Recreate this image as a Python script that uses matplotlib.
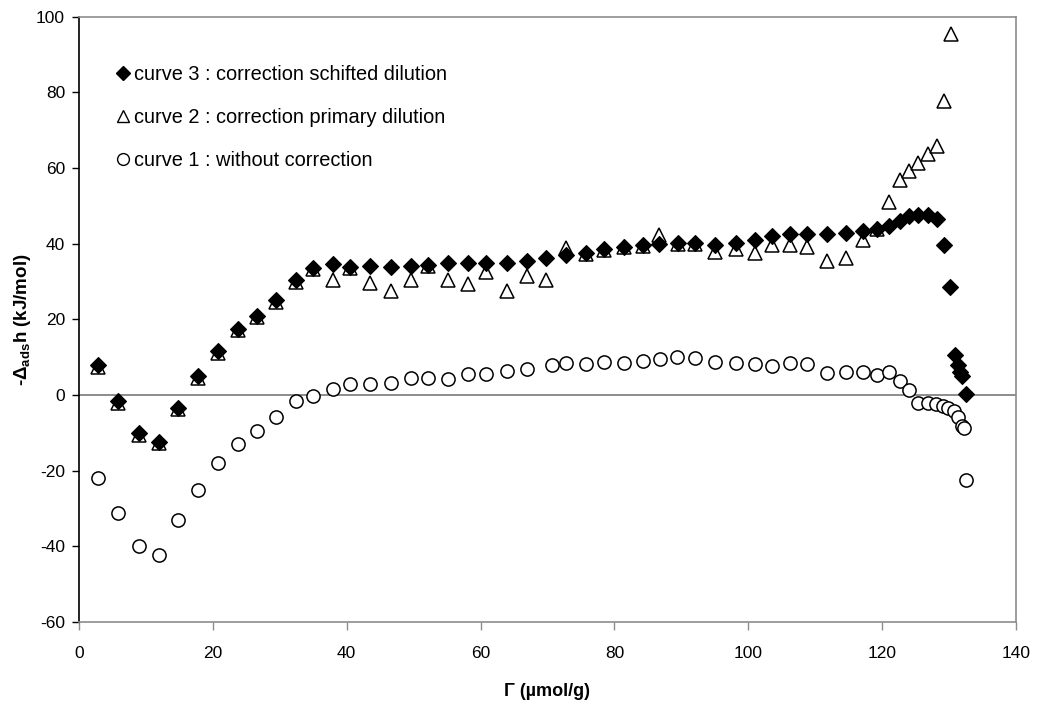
import matplotlib
matplotlib.use('Agg')
import matplotlib.pyplot as plt
from matplotlib.lines import Line2D

plt.rcParams['font.family'] = ['Liberation Sans', 'DejaVu Sans']
plt.rcParams['axes.unicode_minus'] = False
plt.rcParams['mathtext.fontset'] = 'custom'
plt.rcParams['mathtext.rm'] = 'Liberation Sans:bold'
plt.rcParams['mathtext.bf'] = 'Liberation Sans:bold'
plt.rcParams['mathtext.default'] = 'rm'

# ---------------- data ----------------
# curve 3 : correction schifted dilution (filled diamonds)
x3 = [2.9, 5.9, 8.9, 11.9, 14.8, 17.8, 20.8, 23.7, 26.6, 29.5, 32.4, 35.0, 37.9,
      40.5, 43.5, 46.6, 49.6, 52.2, 55.1, 58.1, 60.8, 64.0, 66.9, 69.8, 72.7,
      75.7, 78.5, 81.5, 84.3, 86.7, 89.5, 92.1, 95.1, 98.1, 101.0, 103.6, 106.2,
      108.7, 111.7, 114.6, 117.1, 119.2, 121.1, 122.7, 124.0, 125.4, 126.9,
      128.2, 129.2, 130.1, 130.9, 131.4, 131.7, 132.0, 132.6]
y3 = [7.9, -1.6, -10.0, -12.4, -3.4, 5.0, 11.6, 17.5, 20.9, 25.0, 30.4, 33.7, 34.6,
      33.9, 34.0, 33.9, 34.1, 34.4, 34.8, 34.8, 35.0, 35.0, 35.5, 36.1, 37.0,
      37.6, 38.5, 39.2, 39.7, 39.9, 40.1, 40.1, 39.7, 40.1, 41.0, 42.1, 42.6,
      42.6, 42.6, 42.7, 43.3, 44.0, 44.7, 46.1, 47.2, 47.5, 47.5,
      46.4, 39.7, 28.5, 10.6, 7.9, 6.2, 5.0, 0.4]

# curve 2 : correction primary dilution (open triangles)
x2 = [2.9, 5.9, 8.9, 11.9, 14.8, 17.8, 20.8, 23.7, 26.6, 29.5, 32.4, 35.0, 37.9,
      40.5, 43.5, 46.6, 49.6, 52.2, 55.1, 58.1, 60.8, 64.0, 66.9, 69.8, 72.7,
      75.7, 78.5, 81.5, 84.3, 86.7, 89.5, 92.1, 95.1, 98.1, 101.0, 103.6, 106.2,
      108.7, 111.7, 114.6, 117.1, 119.2, 121.1, 122.7, 124.0, 125.4, 126.9,
      128.2, 129.2, 130.3]
y2 = [7.5, -2.0, -10.5, -12.8, -3.8, 4.6, 11.2, 17.1, 20.5, 24.6, 30.0, 33.3, 30.4,
      33.5, 29.5, 27.6, 30.4, 34.0, 30.4, 29.4, 32.4, 27.6, 31.5, 30.4, 38.8,
      37.3, 38.3, 39.0, 39.5, 42.3, 40.0, 39.8, 37.9, 38.5, 37.6, 39.7, 39.7,
      39.0, 35.3, 36.1, 41.0, 44.0, 50.9, 56.8, 59.3, 61.3, 63.8,
      65.8, 77.6, 95.5]

# curve 1 : without correction (open circles)
x1 = [2.9, 5.9, 8.9, 11.9, 14.8, 17.8, 20.8, 23.7, 26.6, 29.4, 32.4, 35.0, 37.9,
      40.5, 43.5, 46.6, 49.6, 52.2, 55.1, 58.1, 60.8, 64.0, 66.9, 70.7, 72.7,
      75.7, 78.5, 81.5, 84.3, 86.8, 89.4, 92.1, 95.1, 98.1, 101.0, 103.6, 106.2,
      108.7, 111.7, 114.6, 117.1, 119.2, 121.0, 122.7, 124.0, 125.3, 126.8,
      128.1, 129.1, 129.9, 130.7, 131.4, 131.9, 132.3, 132.6]
y1 = [-22.0, -31.3, -39.9, -42.3, -33.1, -25.1, -17.9, -13.0, -9.6, -5.9, -1.7, -0.2, 1.6,
      3.0, 3.0, 3.3, 4.6, 4.6, 4.2, 5.6, 5.6, 6.4, 6.8, 7.9, 8.5,
      8.2, 8.8, 8.5, 9.0, 9.5, 10.1, 9.7, 8.6, 8.5, 8.2, 7.8, 8.5,
      8.1, 5.7, 6.0, 6.0, 5.4, 6.2, 3.7, 1.2, -2.0, -2.1,
      -2.5, -3.0, -3.5, -4.2, -5.7, -8.2, -8.8, -22.5]

labels = ['curve 3 : correction schifted dilution',
          'curve 2 : correction primary dilution',
          'curve 1 : without correction']
xticks = [0, 20, 40, 60, 80, 100, 120, 140]
yticks = [-60, -40, -20, 0, 20, 40, 60, 80, 100]

# ---------------- figure ----------------
fig = plt.figure(figsize=(10.38, 7.07), dpi=100)
ax = fig.add_axes([0.0761, 0.1202, 0.9027, 0.8562])

ax.axhline(0, color='#8c8c8c', lw=1.4, zorder=1)

ax.plot(x1, y1, linestyle='none', marker='o', ms=9.5, mfc='white', mec='black',
        mew=1.1, zorder=3)
ax.plot(x3, y3, linestyle='none', marker='D', ms=8.3, mfc='black', mec='black',
        mew=0.8, zorder=4)
ax.plot(x2, y2, linestyle='none', marker='^', ms=9.8, mfc='none', mec='black',
        mew=1.1, zorder=5)

ax.set_xlim(0, 140)
ax.set_ylim(-60, 100)
ax.set_xticks(xticks)
ax.set_yticks(yticks)
ax.set_xticklabels([str(t) for t in xticks])
ax.set_yticklabels([str(t) for t in yticks])

ax.tick_params(axis='x', direction='out', length=6, width=1, color='#8c8c8c',
               labelsize=12.5, pad=11)
ax.tick_params(axis='y', direction='out', length=5, width=1, color='black',
               labelsize=12.5, pad=5)

ax.spines['left'].set_color('black')
ax.spines['left'].set_linewidth(1.2)
for s in ['bottom', 'top', 'right']:
    ax.spines[s].set_color('#8c8c8c')
    ax.spines[s].set_linewidth(1.2)

ax.set_xlabel('Γ (µmol/g)', fontsize=13, fontweight='bold', labelpad=16)
ax.set_ylabel(r'-Δ$_{\rm ads}$h (kJ/mol)', fontsize=13.5, fontweight='bold',
              labelpad=2)

h3 = Line2D([], [], linestyle='none', marker='D', ms=7, mfc='black', mec='black')
h2 = Line2D([], [], linestyle='none', marker='^', ms=8.5, mfc='none', mec='black', mew=1.0)
h1 = Line2D([], [], linestyle='none', marker='o', ms=8.5, mfc='white', mec='black', mew=1.0)
ax.legend(handles=[h3, h2, h1], labels=labels, loc='upper left',
          bbox_to_anchor=(0.0406, 0.92), frameon=False, fontsize=14.4,
          handlelength=0.6, handletextpad=0.25, labelspacing=1.2,
          borderpad=0, borderaxespad=0)

fig.savefig('out.png', dpi=100)
